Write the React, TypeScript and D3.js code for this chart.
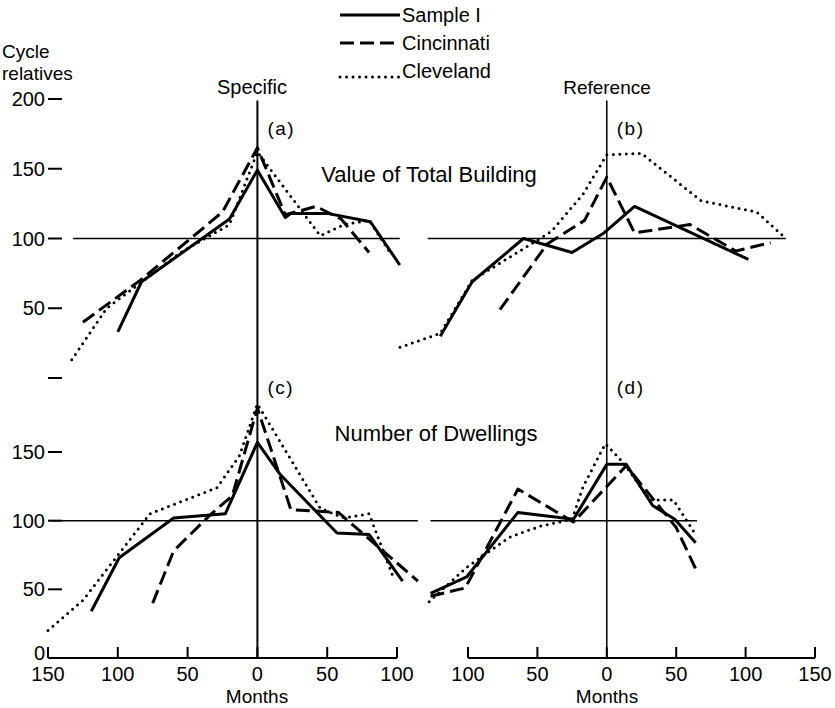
import * as d3 from 'd3'

type Pt = [number, number]

// months (negative = before turn), cycle relative
const aSample: Pt[] = [[-100, 33], [-83, 69], [-20, 114], [0, 149], [20, 115], [24, 118], [50, 118], [81, 112], [102, 81]]
const aCinci: Pt[] = [[-125, 40], [-84, 70], [-25, 119], [0, 165], [20, 117], [42, 123], [60, 114], [80, 90]]
const aCleve: Pt[] = [[-133, 13], [-108, 50], [-84, 68], [-55, 90], [-20, 110], [0, 162], [45, 102], [62, 110], [80, 113], [95, 90]]

const bSample: Pt[] = [[-120, 30], [-97, 69], [-60, 100], [-25, 90], [-2, 104], [20, 123], [102, 85]]
const bCinci: Pt[] = [[-77, 49], [-43, 96], [-16, 113], [0, 144], [20, 104], [60, 110], [93, 91], [118, 97]]
const bCleve: Pt[] = [[-149, 22], [-120, 32], [-97, 70], [-40, 105], [-17, 132], [0, 160], [25, 161], [68, 127], [108, 119], [129, 100]]

const cSample: Pt[] = [[-119, 34], [-99, 73], [-60, 102], [-23, 105], [0, 157], [16, 134], [57, 91], [80, 90], [104, 56]]
const cCinci: Pt[] = [[-75, 40], [-60, 78], [-33, 105], [-18, 118], [0, 182], [24, 108], [58, 106], [115, 56]]
const cCleve: Pt[] = [[-150, 20], [-125, 42], [-77, 105], [-29, 124], [-13, 147], [0, 185], [45, 109], [62, 102], [80, 105], [98, 57]]

const dSample: Pt[] = [[-127, 47], [-101, 59], [-64, 106], [-24, 101], [0, 141], [14, 141], [33, 111], [49, 101], [64, 84]]
const dCinci: Pt[] = [[-127, 45], [-102, 51], [-64, 123], [-24, 99], [14, 140], [50, 95], [64, 65]]
const dCleve: Pt[] = [[-128, 41], [-101, 66], [-70, 88], [-48, 96], [-25, 101], [-17, 125], [-1, 156], [12, 142], [31, 115], [48, 115], [64, 90]]

const seriesNames = ['Sample I', 'Cincinnati', 'Cleveland']
const dashes = [null, '14 6', '0 6.5']

const yTicksTop = [200, 150, 100, 50]
const yTicksBottom = [150, 100, 50]
const xTicksLeft = [-150, -100, -50, 0, 50, 100]
const xTicksRight = [-100, -50, 0, 50, 100, 150]

const font = '"Liberation Sans", Arial, sans-serif'

export default function App() {
  const xLeft = d3.scaleLinear().domain([-150, 100]).range([48, 397])
  const xRight = d3.scaleLinear().domain([-100, 150]).range([468, 815])
  const yTop = d3.scaleLinear().domain([0, 200]).range([378, 99])
  const yBot = d3.scaleLinear().domain([0, 150]).range([658, 452])

  const panels = [
    { id: '(a)', x: xLeft, y: yTop, data: [aSample, aCinci, aCleve], ref: [-132, 102] },
    { id: '(b)', x: xRight, y: yTop, data: [bSample, bCinci, bCleve], ref: [-129, 129] },
    { id: '(c)', x: xLeft, y: yBot, data: [cSample, cCinci, cCleve], ref: [-148, 115] },
    { id: '(d)', x: xRight, y: yBot, data: [dSample, dCinci, dCleve], ref: [-127, 65] },
  ]

  return (
    <svg width={835} height={708} style={{ position: 'absolute', left: 0, top: 0, background: '#fff' }}
      fontFamily={font} fill="#000">
      {/* legend */}
      {seriesNames.map((name, i) => {
        const yy = 15 + i * 28
        const ly = i === 2 ? yy + 6 : yy
        return (
          <g key={name}>
            <line x1={340} x2={400} y1={ly} y2={ly} stroke="#000" strokeWidth={3}
              strokeDasharray={dashes[i] ?? undefined} strokeLinecap={i === 2 ? 'round' : 'butt'} />
            <text x={402} y={yy + 7} fontSize={20}>{name}</text>
          </g>
        )
      })}

      {/* y axis labels */}
      <text x={2} y={58} fontSize={19}>Cycle</text>
      <text x={2} y={80} fontSize={19}>relatives</text>
      {yTicksTop.map(t => (
        <g key={'yt' + t}>
          <text x={45} y={yTop(t) + 7} fontSize={20} textAnchor="end">{t}</text>
          <line x1={48} x2={62} y1={yTop(t)} y2={yTop(t)} stroke="#000" strokeWidth={2} />
        </g>
      ))}
      <line x1={48} x2={62} y1={yTop(0)} y2={yTop(0)} stroke="#000" strokeWidth={2} />
      {yTicksBottom.map(t => (
        <g key={'yb' + t}>
          <text x={45} y={yBot(t) + 7} fontSize={20} textAnchor="end">{t}</text>
          <line x1={48} x2={62} y1={yBot(t)} y2={yBot(t)} stroke="#000" strokeWidth={2} />
        </g>
      ))}
      <text x={45} y={yBot(0) + 2} fontSize={20} textAnchor="end">0</text>

      {/* column titles */}
      <text x={252} y={94} fontSize={20} textAnchor="middle">Specific</text>
      <text x={607} y={94} fontSize={19} textAnchor="middle">Reference</text>
      <text x={429} y={182} fontSize={22} textAnchor="middle">Value of Total Building</text>
      <text x={436} y={441} fontSize={22} textAnchor="middle">Number of Dwellings</text>

      {/* vertical zero lines */}
      <line x1={xLeft(0)} x2={xLeft(0)} y1={yTop(199)} y2={yBot(0)} stroke="#000" strokeWidth={2} />
      <line x1={xRight(0)} x2={xRight(0)} y1={yTop(199)} y2={yBot(0)} stroke="#000" strokeWidth={1.5} />

      {panels.map(p => {
        const line = d3.line<Pt>().x(d => p.x(d[0])).y(d => p.y(d[1]))
        const x0 = p.x(0)
        return (
          <g key={p.id}>
            <line x1={p.x(p.ref[0])} x2={p.x(p.ref[1])} y1={p.y(100)} y2={p.y(100)} stroke="#000" strokeWidth={1.5} />
            <text x={x0 + 10} y={p.y === yTop ? 135 : 394} fontSize={19} letterSpacing={1.5}>{p.id}</text>
            {p.data.map((s, i) => (
              <path key={i} d={line(s) ?? ''} fill="none" stroke="#000" strokeWidth={3}
                strokeDasharray={dashes[i] ?? undefined}
                strokeLinecap={i === 2 ? 'round' : 'butt'} strokeLinejoin="round" />
            ))}
          </g>
        )
      })}

      {/* x axes */}
      {[{ x: xLeft, ticks: xTicksLeft, cx: 257 }, { x: xRight, ticks: xTicksRight, cx: 607 }].map((ax, k) => (
        <g key={'ax' + k}>
          <line x1={ax.x(ax.ticks[0])} x2={ax.x(ax.ticks[ax.ticks.length - 1])} y1={yBot(0)} y2={yBot(0)}
            stroke="#000" strokeWidth={2} />
          {ax.ticks.map(t => (
            <g key={t}>
              <line x1={ax.x(t)} x2={ax.x(t)} y1={yBot(0)} y2={yBot(0) - 11} stroke="#000" strokeWidth={2} />
              <text x={ax.x(t)} y={681} fontSize={20} textAnchor="middle">{Math.abs(t)}</text>
            </g>
          ))}
          <text x={ax.cx} y={703} fontSize={19} textAnchor="middle">Months</text>
        </g>
      ))}
    </svg>
  )
}
